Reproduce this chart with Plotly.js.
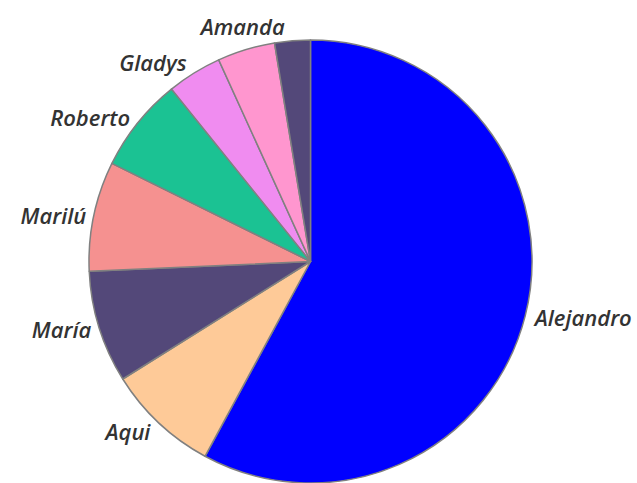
<!DOCTYPE html>
<html>
<head>
<meta charset="utf-8">
<script src="https://cdn.plot.ly/plotly-3.0.1.min.js"></script>
<style>html,body{margin:0;padding:0;background:#fff;}#chart{width:637px;height:483px;}</style>
</head>
<body>
<div id="chart"></div>
<script>
const names = ["Alejandro","Aqui","María","Marilú","Roberto","Gladys","Otro","Amanda"];
const values = [57.9, 8.2, 8.2, 8.0, 6.9, 4.0, 4.2, 2.6];
const labelTexts = ["Alejandro","Aqui","María","Marilú","Roberto","Gladys","","Amanda"];
const colors = ["#0000FF","#FECA98","#534879","#F59190","#1BC293","#F08CF0","#FF96CF","#534879"];

Plotly.newPlot("chart", [{
  type: "pie",
  labels: names,
  values: values,
  text: labelTexts,
  textinfo: "text",
  textposition: "outside",
  sort: false,
  direction: "clockwise",
  rotation: 0,
  marker: {colors: colors, line: {color: "#808080", width: 1.5}},
  textfont: {family: "Open Sans", size: 22, color: "#333333", style: "italic", weight: 600},
  hoverinfo: "label+value"
}], {
  width: 637, height: 483,
  margin: {l: 0, r: 16, t: 40, b: 0},
  showlegend: false,
  paper_bgcolor: "#ffffff"
}, {displayModeBar: false});
</script>
</body>
</html>
